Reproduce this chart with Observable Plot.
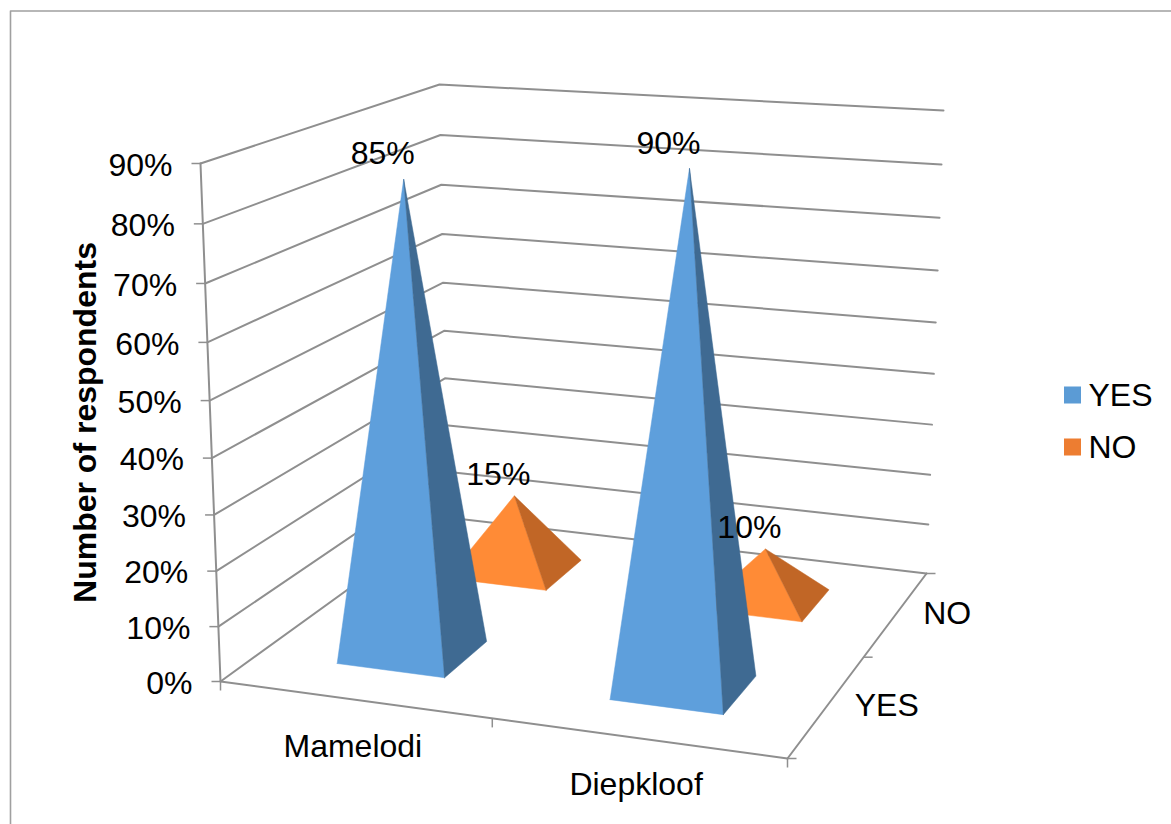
<!DOCTYPE html>
<html>
<head>
<meta charset="utf-8">
<script src="https://cdn.jsdelivr.net/npm/d3@7"></script>
<script src="https://cdn.jsdelivr.net/npm/@observablehq/plot@0.6"></script>
<style>html,body{margin:0;padding:0;background:#fff}svg{display:block}</style>
</head>
<body>
<div id="chart"></div>
<script>
const categories = ["Mamelodi", "Diepkloof"];
const series = ["YES", "NO"];
const yesValues = [0.85, 0.90];
const noValues = [0.15, 0.10];
const ticks = [0, .1, .2, .3, .4, .5, .6, .7, .8, .9];
const axisTitle = "Number of respondents";

const W = 1171, H = 824, MAXV = 0.9, FONT = "Liberation Sans";
const GRID = "#8f8f8f";
const colors = {
  YES: {front: "#5E9FDC", side: "#3F6A92", key: "#5B9BD5"},
  NO: {front: "#FF8B36", side: "#C16626", key: "#ED7D31"}
};

// Camera of the 3D box: where its corners fall on the page
// order: (front-left, front-right, back-right, back-left)
const floorQuad = [[220,681],[787,758],[926,573],[447,517]];
const topQuad = [[200,163],[800,205],[943,110],[439,84]];
const PERSP = 0.055;

function homography(q) {
  const [[x0,y0],[x1,y1],[x2,y2],[x3,y3]] = q;
  const dx1=x1-x2, dx2=x3-x2, sx=x0-x1+x2-x3;
  const dy1=y1-y2, dy2=y3-y2, sy=y0-y1+y2-y3;
  const den=dx1*dy2-dx2*dy1;
  const g=(sx*dy2-dx2*sy)/den, h=(dx1*sy-sx*dy1)/den;
  const a=x1-x0+g*x1, b=x3-x0+h*x3, d=y1-y0+g*y1, e=y3-y0+h*y3;
  return (u,v)=>{const s=1+g*u+h*v;return [(a*u+b*v+x0)/s,(d*u+e*v+y0)/s];};
}
const floorH = homography(floorQuad), topH = homography(topQuad);
function project(u,v,val) {
  const f=floorH(u,v), t=topH(u,v), r=val/MAXV;
  const k=r/(1+PERSP*(1-r));
  return {x:f[0]+(t[0]-f[0])*k, y:f[1]+(t[1]-f[1])*k};
}

// Walls and floor
const gridPaths = ticks.flatMap((w,i)=>[[0,0],[0,1],[1,1]].map(([u,v])=>({...project(u,v,w),id:i})));
const edges = [
  [[0,0,0],[0,0,MAXV]],
  [[0,0,0],[1,0,0]],
  [[1,0,0],[1,1,0]]
].map((e,i)=>e.map(([u,v,w])=>({...project(u,v,w),id:i}))).flat();

const TICK = 9;
const leftTicks = ticks.map(w=>({...project(0,0,w),w}));
const bottomTicks = [0,.493,1].map(u=>project(u,0,0));
const sideTicks = [0,.5,1].map(v=>project(1,v,0));

// Pyramids
const U = [0.247, 0.747], V = [0.245, 0.74], HALF_U = 0.1, HALF_V = 0.097, APEX_LEAN = 0.008;
function pyramid(ci, si, val) {
  const u=U[ci], v=V[si];
  const fl=project(u-HALF_U,v-HALF_V,0), fr=project(u+HALF_U,v-HALF_V,0),
        br=project(u+HALF_U,v+HALF_V,0), apex=project(u+APEX_LEAN*val/MAXV,v,val);
  return {fl,fr,br,apex,series:series[si],val};
}
const pyramids = [
  pyramid(0,1,noValues[0]), pyramid(1,1,noValues[1]),
  pyramid(0,0,yesValues[0]), pyramid(1,0,yesValues[1])
];
const faceMarks = pyramids.flatMap(p=>[
  Plot.line([p.fl,p.fr,p.apex,p.fl],{x:"x",y:"y",fill:colors[p.series].front,stroke:colors[p.series].front,strokeWidth:0.5,curve:"linear"}),
  Plot.line([p.fr,p.br,p.apex,p.fr],{x:"x",y:"y",fill:colors[p.series].side,stroke:colors[p.series].side,strokeWidth:0.5,curve:"linear"})
]);
const labels = pyramids.map(p=>({x:p.apex.x,y:p.apex.y,t:d3.format(".0%")(p.val),tall:p.series==="YES"}));

const text = {fontFamily:FONT,fontSize:32,fill:"#000",stroke:"none"};
const legendY = [395, 447];

const chart = Plot.plot({
  width:W, height:H, margin:0,
  x:{domain:[0,W],range:[0,W],axis:null},
  y:{domain:[0,H],range:[0,H],axis:null},
  marks:[
    // outer chart border: left and top only inside the picture
    Plot.line([{x:10,y:H+2},{x:10,y:10.5},{x:W+2,y:10.5}],{x:"x",y:"y",stroke:"#a0a0a0",strokeWidth:1.6}),
    Plot.line(gridPaths,{x:"x",y:"y",z:"id",stroke:GRID,strokeWidth:2}),
    Plot.line(edges,{x:"x",y:"y",z:"id",stroke:GRID,strokeWidth:2}),
    Plot.link(leftTicks,{x1:d=>d.x-TICK,x2:"x",y1:"y",y2:"y",stroke:GRID,strokeWidth:1.5}),
    Plot.link(bottomTicks,{x1:"x",x2:"x",y1:"y",y2:d=>d.y+TICK,stroke:GRID,strokeWidth:1.5}),
    Plot.link(sideTicks,{x1:"x",x2:d=>d.x+TICK,y1:"y",y2:"y",stroke:GRID,strokeWidth:1.5}),
    ...faceMarks,
    Plot.text(labels.filter(d=>d.tall),{x:"x",y:"y",text:"t",dx:-21,dy:-25,...text}),
    Plot.text(labels.filter(d=>!d.tall),{x:"x",y:"y",text:"t",dx:-16,dy:-21,...text}),
    Plot.text(leftTicks,{x:"x",y:"y",text:d=>d3.format(".0%")(d.w),dx:-28,dy:2,textAnchor:"end",...text}),
    Plot.text(categories,{x:(d,i)=>project(U[i],0,0).x,y:(d,i)=>project(U[i],0,0).y,text:d=>d,dx:-2,dy:47,...text}),
    Plot.text(series,{x:(d,i)=>project(1,V[i],0).x,y:(d,i)=>project(1,V[i],0).y,text:d=>d,dx:28,dy:-1,textAnchor:"start",...text}),
    Plot.text([axisTitle],{x:()=>85,y:()=>422,text:d=>d,rotate:-90,fontFamily:FONT,fontSize:32,fontWeight:"bold",fill:"#000"}),
    Plot.rect(series,{x1:()=>1064,x2:()=>1081,y1:(d,i)=>legendY[i]-8.5,y2:(d,i)=>legendY[i]+8.5,fill:d=>colors[d].key}),
    Plot.text(series,{x:()=>1088,y:(d,i)=>legendY[i],text:d=>d,textAnchor:"start",...text})
  ]
});
document.getElementById("chart").append(chart);
</script>
</body>
</html>
